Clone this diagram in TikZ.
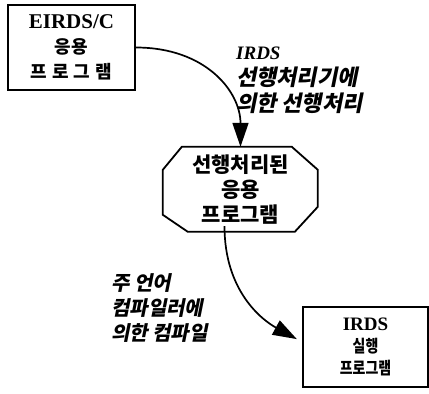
\documentclass[tikz,border=0pt]{standalone}
\usepackage{fontspec}
\setmainfont{Liberation Serif}
\newfontfamily\kr{Noto Sans CJK KR}
\newfontfamily\krc[FakeStretch=0.82,BoldFeatures={FakeStretch=0.82}]{Noto Sans CJK KR}
\newfontfamily\krit[FakeSlant=0.2,BoldFeatures={FakeSlant=0.2}]{Noto Sans CJK KR}
\usetikzlibrary{arrows.meta}
\tikzset{
  boxnode/.style={draw, line width=1.8pt, inner sep=0pt, align=center},
  labelnode/.style={inner sep=0pt, anchor=north west, align=left},
  flow/.style={line width=1.7pt, -{Triangle[length=24pt,width=16pt]}},
}
\begin{document}
\begin{tikzpicture}[x=1pt,y=-1pt]
\useasboundingbox (0,0) rectangle (429,394);
% box 1
\node[boxnode, minimum width=127pt, minimum height=85pt,
      font=\fontsize{18}{25}\selectfont] (b1) at (71.5,47.5)
  {{\bfseries\fontsize{21}{25}\selectfont EIRDS/C}\\
   {\kr\bfseries 응용}\\
   {\kr\bfseries 프\hspace{5pt}로\hspace{5pt}그\hspace{5pt}램}};
% octagon
\node[inner sep=0pt, minimum width=155pt, minimum height=85pt, align=center,
      font=\fontsize{21}{25}\selectfont] (oct) at (240.5,189.5)
  {{\kr\bfseries 선행처리된}\\ {\kr\bfseries 응용}\\ {\kr\bfseries 프로그램}};
\draw[line width=1.8pt, line join=miter]
  (oct.north west) ++(19,0) -- ++(110,0) -- ++(26,23) -- ++(0,37)
  -- ++(-23,25) -- ++(-107,0) -- ++(-25,-17) -- ++(0,-45) -- cycle;
% box 3
\node[boxnode, minimum width=125pt, minimum height=80pt,
      font=\fontsize{17}{22}\selectfont] (b3) at (365.5,347)
  {{\bfseries\fontsize{19}{22}\selectfont IRDS}\\
   {\krc\bfseries 실행}\\
   {\krc\bfseries 프로그램}};
% labels
\node[labelnode, font=\fontsize{22}{26}\selectfont] (l1) at (236,47)
  {{\bfseries\itshape\fontsize{19}{26}\selectfont IRDS}\\
   {\krit\bfseries 선행처리기에}\\
   {\krit\bfseries 의한 선행처리}};
\node[labelnode, font=\fontsize{20}{25}\selectfont] (l2) at (111,273)
  {{\krit\bfseries 주 언어}\\
   {\krit\bfseries 컴파일러에}\\
   {\krit\bfseries 의한 컴파일}};
% connectors
\draw[flow] (b1.east) .. controls +(70,0) and +(0,-55) .. (oct.north);
\coordinate (s2) at ([xshift=-16pt, yshift=6pt]oct.south);
\draw[flow, shorten >=6pt] (s2) .. controls +(0,65) and +(-40,-22) .. ([yshift=5pt]b3.west);
\end{tikzpicture}
\end{document}
